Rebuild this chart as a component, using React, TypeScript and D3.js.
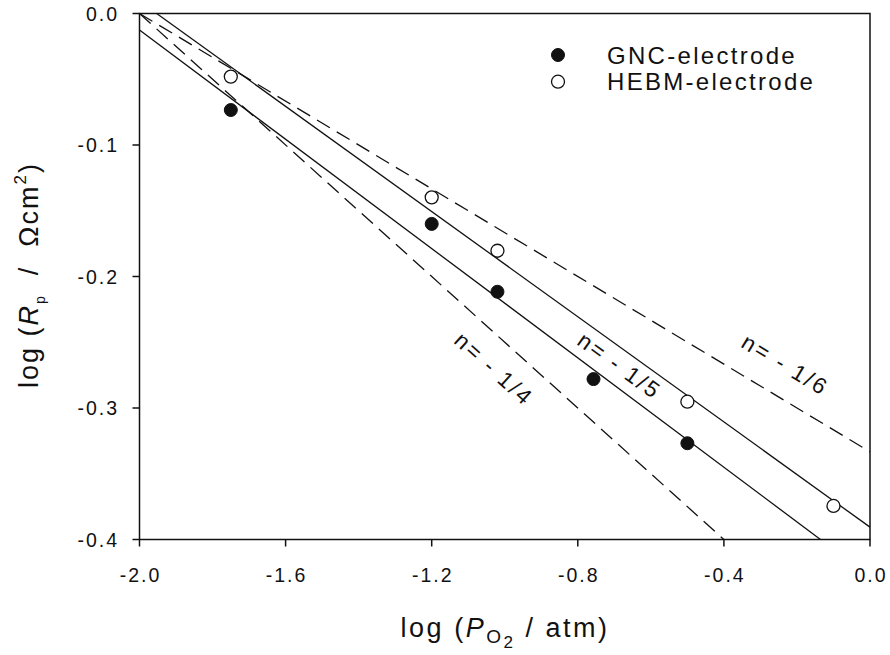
import React from "react";
import * as d3 from "d3";

// ---- data ----
const xTicks = [-2.0, -1.6, -1.2, -0.8, -0.4, 0.0];
const yTicks = [0.0, -0.1, -0.2, -0.3, -0.4];

const gncX = [-1.75, -1.2, -1.02, -0.757, -0.5];
const gncY = [-0.0734, -0.16, -0.2116, -0.278, -0.3268];
const hebmX = [-1.75, -1.2, -1.02, -0.5, -0.1];
const hebmY = [-0.048, -0.1398, -0.1804, -0.2952, -0.3745];

// reference / fit lines: [x0, y0, x1, y1]
const lineNames = ["gncFit", "hebmFit", "n14", "n16"];
const lineX0 = [-2.0, -1.953, -2.0, -2.0];
const lineY0 = [-0.0125, 0.0, 0.0, 0.0];
const lineX1 = [-0.1356, 0.0, -0.4, 0.0];
const lineY1 = [-0.4, -0.3906, -0.4, -0.3333];

const labelTexts = ["n= - 1/4", "n= - 1/5", "n= - 1/6"];
const labelX = [-1.03, -0.686, -0.232];
const labelY = [-0.2705, -0.268, -0.2673];
const labelLine = ["n14", "hebmFit", "n16"];

const seriesNames = ["GNC-electrode", "HEBM-electrode"];

// ---- layout ----
const W = 890;
const H = 655;
const M = { left: 139.5, right: 870, top: 13.5, bottom: 539.5 };
const FONT = "'Liberation Sans', Arial, Helvetica, sans-serif";
const dashedLines: Record<string, boolean> = { n14: true, n16: true, gncFit: false, hebmFit: false };

export default function App() {
  const x = d3.scaleLinear().domain([-2, 0]).range([M.left, M.right]);
  const y = d3.scaleLinear().domain([-0.4, 0]).range([M.bottom, M.top]);
  const line = d3.line<[number, number]>().x((d) => x(d[0])).y((d) => y(d[1]));

  const angleOf = (name: string) => {
    const i = lineNames.indexOf(name);
    const dx = x(lineX1[i]) - x(lineX0[i]);
    const dy = y(lineY1[i]) - y(lineY0[i]);
    return (Math.atan2(dy, dx) * 180) / Math.PI;
  };

  const r = 6.5;
  const tickLen = 7;
  const fmt = (t: number) => d3.format(".1f")(t).replace("−", "-");

  return (
    <svg width={W} height={H} style={{ position: "absolute", left: 0, top: 0, background: "#fff" }} fontFamily={FONT}>
      <rect x={0} y={0} width={W} height={H} fill="#fff" />
      {/* lines */}
      {lineNames.map((n, i) => (
        <path
          key={n}
          d={line([
            [lineX0[i], lineY0[i]],
            [lineX1[i], lineY1[i]],
          ]) as string}
          fill="none"
          stroke="#111"
          strokeWidth={1.3}
          strokeDasharray={dashedLines[n] ? "15,8" : undefined}
        />
      ))}
      {/* frame */}
      <rect x={M.left} y={M.top} width={M.right - M.left} height={M.bottom - M.top} fill="none" stroke="#111" strokeWidth={1.5} />
      {/* x ticks */}
      {xTicks.map((t) => (
        <g key={"x" + t}>
          <line x1={x(t)} x2={x(t)} y1={M.bottom} y2={M.bottom + tickLen} stroke="#111" strokeWidth={1.5} />
          <text x={x(t) + 1} y={582} textAnchor="middle" fontSize={19.5} letterSpacing={2} fill="#111">
            {fmt(t)}
          </text>
        </g>
      ))}
      {/* y ticks */}
      {yTicks.map((t) => (
        <g key={"y" + t}>
          <line x1={M.left - tickLen} x2={M.left} y1={y(t)} y2={y(t)} stroke="#111" strokeWidth={1.5} />
          <text x={119} y={y(t) + 7} textAnchor="end" fontSize={19.5} letterSpacing={2} fill="#111">
            {fmt(t)}
          </text>
        </g>
      ))}
      {/* points */}
      {gncX.map((v, i) => (
        <circle key={"g" + i} cx={x(v)} cy={y(gncY[i])} r={r} fill="#111" stroke="#111" strokeWidth={1} />
      ))}
      {hebmX.map((v, i) => (
        <circle key={"h" + i} cx={x(v)} cy={y(hebmY[i])} r={r} fill="#fff" stroke="#111" strokeWidth={1.3} />
      ))}
      {/* line labels */}
      {labelTexts.map((t, i) => (
        <text
          key={t}
          transform={`translate(${x(labelX[i])},${y(labelY[i])}) rotate(${angleOf(labelLine[i])})`}
          textAnchor="middle"
          dominantBaseline="central"
          fontSize={22.5}
          letterSpacing={2.5}
          fill="#111"
          style={{ whiteSpace: "pre" }}
        >
          {t}
        </text>
      ))}
      {/* legend */}
      <circle cx={558} cy={55} r={r} fill="#111" stroke="#111" />
      <circle cx={558} cy={81.7} r={r} fill="#fff" stroke="#111" strokeWidth={1.3} />
      <text x={607} y={63.5} fontSize={24} letterSpacing={2.3} fill="#111">{seriesNames[0]}</text>
      <text x={607} y={90.2} fontSize={24} letterSpacing={2.3} fill="#111">{seriesNames[1]}</text>
      {/* x title */}
      <text x={505} y={637} textAnchor="middle" fontSize={27} letterSpacing={2.5} fill="#111" style={{ whiteSpace: "pre" }}>
        log (<tspan fontStyle="italic">P</tspan>
        <tspan dy={6} fontSize={19}>O</tspan>
        <tspan dy={5} fontSize={17}>2</tspan>
        <tspan dy={-11}> / atm)</tspan>
      </text>
      {/* y title */}
      <text transform={`translate(38,275) rotate(-90)`} textAnchor="middle" fontSize={27} letterSpacing={2} fill="#111" style={{ whiteSpace: "pre" }}>
        log (<tspan fontStyle="italic">R</tspan>
        <tspan dy={7} fontSize={14}>p</tspan>
        <tspan dy={-7}>  /  Ωcm</tspan>
        <tspan dy={-12} fontSize={17}>2</tspan>
        <tspan dy={12}>)</tspan>
      </text>
    </svg>
  );
}
